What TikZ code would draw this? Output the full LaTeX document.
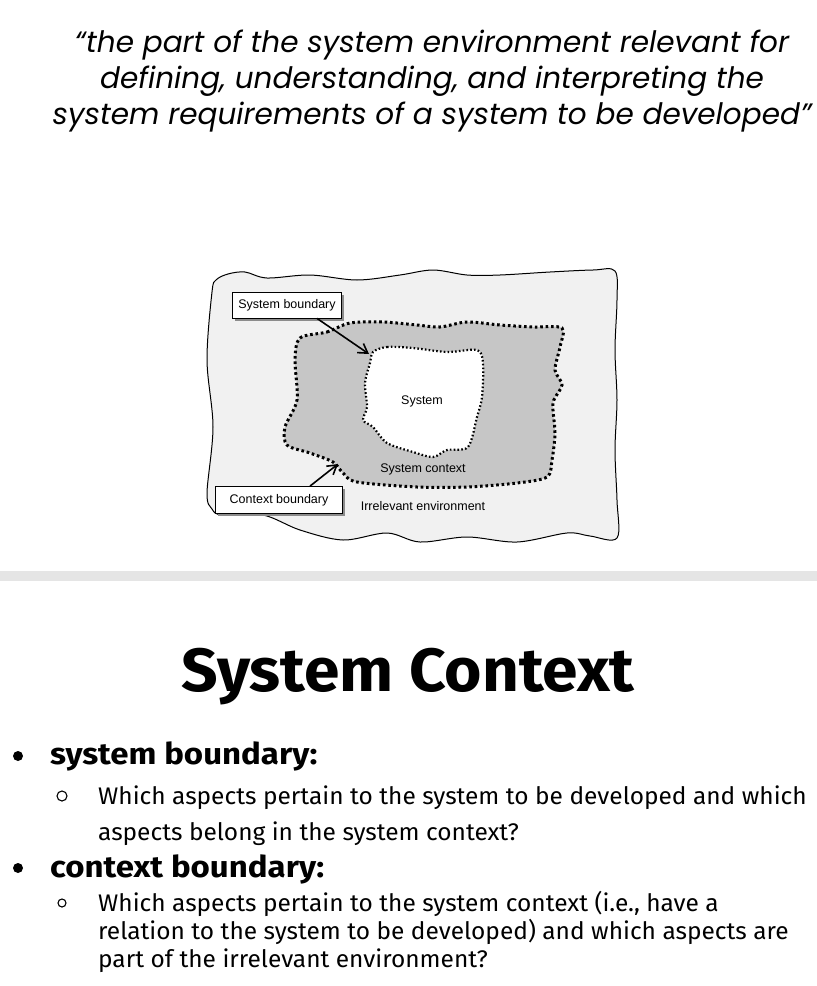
\documentclass[tikz,border=0pt]{standalone}
\usepackage{fontspec}
\usetikzlibrary{arrows.meta,shadows}
\setmainfont{Liberation Sans}
\newfontfamily\quotefont{Poppins}
\newfontfamily\titlefont{Fira Sans}[FakeStretch=1.05]
\newfontfamily\headfont{Fira Sans}[FakeStretch=1.1]
\newfontfamily\bodyfont{Fira Sans}[FakeStretch=1.02]

\definecolor{envfill}{RGB}{241,241,241}
\definecolor{ctxfill}{RGB}{198,198,198}
\definecolor{bandgray}{RGB}{229,229,229}

\tikzset{
  quoteline/.style={anchor=base, font=\quotefont\itshape\fontsize{29.5}{34}\selectfont},
  figtext/.style={font=\fontsize{12.5}{15}\selectfont, inner sep=0pt},
  labelbox/.style={draw, fill=white, line width=0.8pt, inner sep=0pt,
    font=\fontsize{12.5}{15}\selectfont,
    drop shadow={shadow xshift=2.5pt, shadow yshift=-2.5pt, fill=black!45, opacity=1}},
  pointer/.style={line width=1.6pt, -{Straight Barb[length=9pt,width=11pt,line width=1.6pt]}},
  ctxline/.style={draw=black, line width=3pt, dash pattern=on 2.6pt off 2.8pt},
  sysline/.style={draw=black, line width=2.2pt, dash pattern=on 1.6pt off 2.2pt},
  headline/.style={anchor=base west, font=\headfont\bfseries\fontsize{30}{34}\selectfont, inner sep=0pt},
  bodyline/.style={anchor=base west, font=\bodyfont\fontsize{24}{28}\selectfont, inner sep=0pt},
  dotbullet/.style={circle, fill=black, inner sep=0pt, minimum size=10pt},
  ringbullet/.style={circle, draw=black, line width=1.1pt, inner sep=0pt, minimum size=10pt},
}

\begin{document}
\begin{tikzpicture}[x=1pt, y=-1pt]
\useasboundingbox (0,0) rectangle (817,986);

% quotation
\node[quoteline] (q1) at (432,52) {“the part of the system environment relevant for};
\node[quoteline] (q2) at (432,88) {defining, understanding, and interpreting the};
\node[quoteline] (q3) at (432,124) {system requirements of a system to be developed”};

% environment
\draw[fill=envfill, line width=1pt] plot[smooth cycle, tension=0.55] coordinates {
  (212,292) (216,280) (228,274) (245,272) (267,278) (310,275) (357,280) (400,275) (433,270)
  (467,275) (500,275) (550,272) (593,270) (615,271) (617,300) (615,350) (617,400)
  (615,450) (617,500) (617,538) (590,536) (567,533) (517,542) (467,537) (420,542)
  (387,533) (343,540) (300,530) (263,515) (222,515) (212,509) (207,493) (213,427)
  (207,360)};

% system context
\path[fill=ctxfill] plot[smooth cycle, tension=0.5] coordinates {
  (300,338) (327,332) (350,323) (383,322) (417,325) (440,327) (467,322) (500,325)
  (533,327) (562,328) (560,347) (555,370) (562,385) (553,403) (555,433) (552,460)
  (547,477) (517,483) (467,487) (417,487) (357,482) (343,473) (333,462) (310,453)
  (287,445) (285,427) (297,400) (295,360)};
\path[ctxline] plot[smooth cycle, tension=0.5] coordinates {
  (300,338) (327,332) (350,323) (383,322) (417,325) (440,327) (467,322) (500,325)
  (533,327) (562,328) (560,347) (555,370) (562,385) (553,403) (555,433) (552,460)
  (547,477) (517,483) (467,487) (417,487) (357,482) (343,473) (333,462) (310,453)
  (287,445) (285,427) (297,400) (295,360)};

% system
\path[fill=white, sysline] plot[smooth cycle, tension=0.5] coordinates {
  (373,352) (387,347) (413,348) (447,352) (477,350) (483,363) (482,397) (477,417)
  (468,447) (447,450) (433,457) (413,452) (387,443) (373,427) (363,420) (367,407)
  (365,383) (370,363)};

\node[figtext] (sys) at (422,401) {System};
\node[figtext] (ctx) at (423,469) {System context};
\node[figtext] (env) at (423,506) {Irrelevant environment};

% boundary labels
\node[labelbox, minimum width=109pt, minimum height=26pt] (sb) at (287,305) {System boundary};
\node[labelbox, minimum width=127pt, minimum height=27pt] (cb) at (279,500) {Context boundary};
\coordinate (sbtip) at (369,354);
\coordinate (cbtip) at (338,464);
\draw[pointer] ([xshift=30pt]sb.south) -- (sbtip);
\draw[pointer] ([xshift=31pt]cb.north) -- (cbtip);

% separator
\fill[bandgray] (0,571) rectangle (817,581);

% heading
\node[anchor=base, font=\titlefont\bfseries\fontsize{61}{66}\selectfont, inner sep=0pt] (title) at (408,691) {System Context};

% bullet list
\node[dotbullet] (b1) at (18,756) {};
\node[headline] (h1) at (50,764) {system boundary:};
\node[ringbullet] (s1) at (62,796) {};
\node[bodyline] (t11) at (98,804) {Which aspects pertain to the system to be developed and which};
\node[bodyline] (t12) at (98,840) {aspects belong in the system context?};

\node[dotbullet] (b2) at (18,868) {};
\node[headline] (h2) at (50,877) {context boundary:};
\node[ringbullet, minimum size=8pt] (s2) at (62,903) {};
\node[bodyline] (t21) at (98,911) {Which aspects pertain to the system context (i.e., have a};
\node[bodyline] (t22) at (98,939) {relation to the system to be developed) and which aspects are};
\node[bodyline] (t23) at (98,967) {part of the irrelevant environment?};
\end{tikzpicture}
\end{document}
